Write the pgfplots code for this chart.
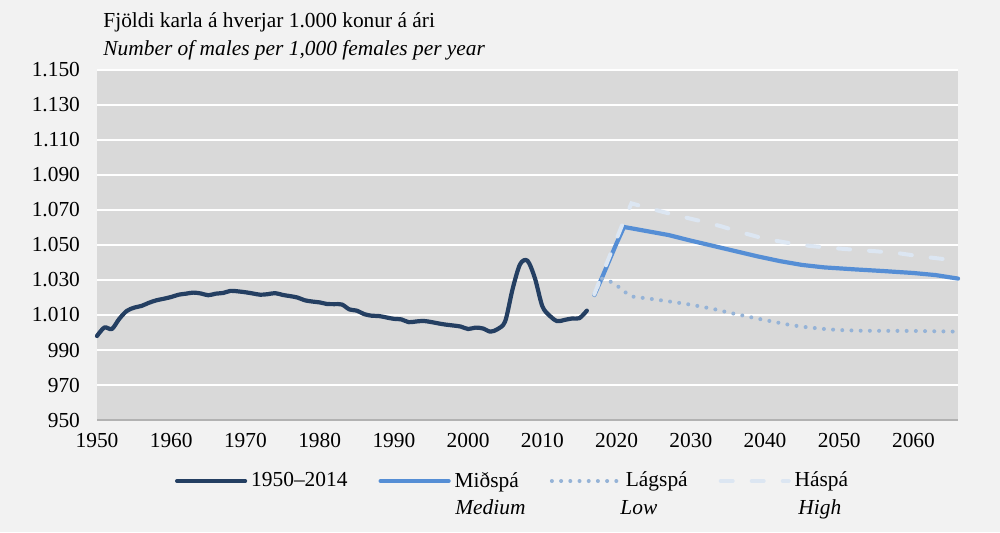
\documentclass[border=0pt]{standalone}
\usepackage{fontspec}
\setmainfont{Liberation Serif}
\usepackage{pgfplots}
\pgfplotsset{compat=1.18}
\definecolor{bgc}{HTML}{F2F2F2}
\definecolor{plotc}{HTML}{D9D9D9}
\definecolor{navy}{HTML}{243F62}
\definecolor{medc}{HTML}{558ED5}
\definecolor{lowc}{HTML}{95B3D7}
\definecolor{highc}{HTML}{DCE6F2}
\newcommand\cf{\fontsize{10.7}{13}\selectfont}

\begin{document}
\begin{tikzpicture}[font=\cf]
\fill[bgc] (0,0) rectangle (500pt,266pt);
\begin{axis}[
  at={(48.5pt,56pt)}, anchor=south west,
  width=430.5pt, height=175pt, scale only axis,
  xmin=1950, xmax=2066, ymin=950, ymax=1150,
  axis background/.style={fill=plotc},
  separate axis lines,
  axis x line*=bottom, axis y line*=left,
  x axis line style={draw=black!30, line width=0.6pt, -},
  y axis line style={draw=none},
  major tick length=0pt,
  xtick={1950,1960,...,2060},
  ytick={950,970,...,1150},
  ymajorgrids, grid style={white, line width=0.8pt},
  tick label style={font=\cf},
  /pgf/number format/assume math mode=true,
  xticklabel style={/pgf/number format/1000 sep={}, yshift=-3.3pt},
  yticklabel style={/pgf/number format/1000 sep={.}, xshift=-5pt},
  clip=false,
  legend style={at={(axis description cs:0.0906,-0.1743)}, anchor=west,
    draw=none, fill=none, inner sep=0pt, outer sep=0pt, legend columns=4,
    nodes={inner sep=0pt}, font=\cf,
    /tikz/every odd column/.append style={column sep=2pt},
    /tikz/every even column/.append style={column sep=15.5pt}},
  legend cell align=left,
  legend image code/.code={\draw[#1] (0pt,0pt) -- (34pt,0pt);},
]
% 1950-2016
\addplot[navy, line width=2.1pt, line cap=round, line join=round, smooth, tension=0.5] coordinates {
(1950,998.0) (1951,1002.9) (1952,1002.0) (1953,1007.8) (1954,1012.3) (1955,1014.2)
(1956,1015.2) (1957,1017.0) (1958,1018.4) (1959,1019.3) (1960,1020.3) (1961,1021.6)
(1962,1022.2) (1963,1022.8) (1964,1022.3) (1965,1021.3) (1966,1022.2) (1967,1022.6)
(1968,1023.8) (1969,1023.5) (1970,1023.0) (1971,1022.3) (1972,1021.6) (1973,1021.9)
(1974,1022.5) (1975,1021.5) (1976,1020.8) (1977,1020.0) (1978,1018.4) (1979,1017.7)
(1980,1017.2) (1981,1016.3) (1982,1016.2) (1983,1016.0) (1984,1013.2) (1985,1012.5)
(1986,1010.5) (1987,1009.6) (1988,1009.4) (1989,1008.6) (1990,1007.8) (1991,1007.5)
(1992,1005.9) (1993,1006.3) (1994,1006.6) (1995,1006.0) (1996,1005.2) (1997,1004.5)
(1998,1004.0) (1999,1003.4) (2000,1002.0) (2001,1002.8) (2002,1002.3) (2003,1000.5)
(2004,1002.0) (2005,1006.5) (2006,1025.0) (2007,1039.0) (2008,1041.0) (2009,1031.0)
(2010,1015.0) (2011,1009.5) (2012,1006.5) (2013,1007.2) (2014,1008.0) (2015,1008.2)
(2016,1012.5)};
\addlegendentry{1950–2014}
% Medium
\addplot[medc, line width=2.1pt, line cap=round, line join=round] coordinates {
(2017,1021.4) (2018,1031.0) (2019,1041.0) (2020,1051.0) (2021,1060.3) (2024,1058.0)
(2027,1055.7) (2030,1052.5) (2033,1049.5) (2036,1046.5) (2039,1043.5) (2042,1040.8)
(2045,1038.6) (2048,1037.2) (2052,1036.1) (2056,1035.1) (2060,1034.0) (2063,1032.8)
(2066,1030.8)};
\addlegendentry{Miðspá}
% Low
\addplot[lowc, line width=2pt, line cap=round, dash pattern=on 0pt off 4.6pt] coordinates {
(2017,1021.4) (2018,1030.8) (2019,1029.5) (2020,1027.0) (2021,1023.5) (2022,1020.6)
(2025,1019.0) (2028,1017.2) (2030,1015.9) (2033,1013.5) (2035,1011.5) (2038,1008.8)
(2040,1007.1) (2043,1004.6) (2045,1003.3) (2048,1002.0) (2050,1001.4) (2053,1001.0)
(2060,1000.9) (2066,1000.5)};
\addlegendentry{Lágspá}
% High
\addplot[highc, line width=2pt, line cap=round, dash pattern=on 6pt off 9.5pt] coordinates {
(2017,1022.0) (2018,1032.5) (2019,1043.0) (2020,1053.5) (2021,1064.0) (2022,1073.8)
(2025,1070.3) (2028,1067.0) (2031,1064.0) (2034,1060.8) (2037,1057.0) (2040,1053.5)
(2043,1051.3) (2046,1049.5) (2049,1048.3) (2052,1047.3) (2055,1046.4) (2058,1045.3)
(2061,1043.5) (2064,1042.0) (2066,1040.9)};
\addlegendentry{Háspá}
\end{axis}
\node[anchor=base west, inner sep=0pt] at (51.5pt,252.5pt) {Fjöldi karla á hverjar 1.000 konur á ári};
\node[anchor=base west, inner sep=0pt, font=\cf\itshape] at (51.5pt,238.5pt) {Number of males per 1,000 females per year};
\node[anchor=base west, inner sep=0pt, font=\cf\itshape] at (227.5pt,9pt) {Medium};
\node[anchor=base west, inner sep=0pt, font=\cf\itshape] at (310pt,9pt) {Low};
\node[anchor=base west, inner sep=0pt, font=\cf\itshape] at (399pt,9pt) {High};
\end{tikzpicture}
\end{document}
